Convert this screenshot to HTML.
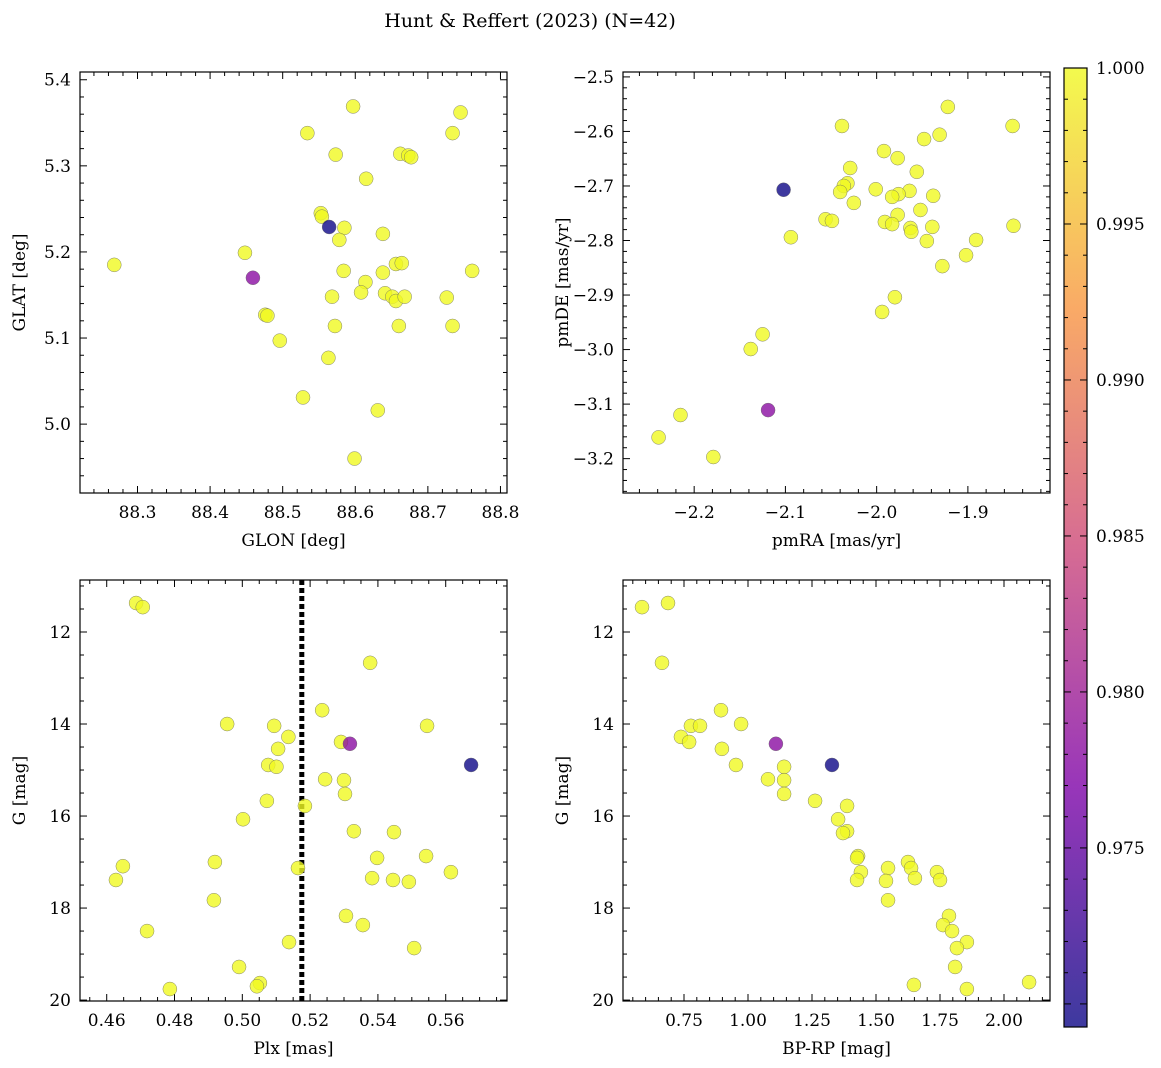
<!DOCTYPE html>
<html><head><meta charset="utf-8"><style>
body{margin:0;background:#fff;}
svg{display:block;font-family:"DejaVu Serif","Liberation Serif",serif;}
</style></head><body>
<svg id="fig" width="1161" height="1068">
<text x="530" y="27" font-size="19" text-anchor="middle">Hunt &amp; Reffert (2023) (N=42)</text>
</svg>
<script>
const NS="http://www.w3.org/2000/svg";
const svg=document.getElementById('fig');
// ---- data ----
const p1Glon=[88.268,88.534,88.573,88.597,88.734,88.745,88.615,88.662,88.673,88.677,88.5525,88.554,88.564,88.585,88.578,88.638,88.448,88.459,88.584,88.638,88.656,88.664,88.761,88.614,88.608,88.641,88.568,88.651,88.656,88.668,88.726,88.476,88.479,88.496,88.572,88.66,88.734,88.563,88.528,88.631,88.599];
const p1Glat=[5.185,5.338,5.313,5.369,5.338,5.362,5.285,5.314,5.312,5.310,5.245,5.241,5.229,5.228,5.214,5.221,5.199,5.170,5.178,5.176,5.186,5.187,5.178,5.165,5.153,5.152,5.148,5.148,5.143,5.148,5.147,5.127,5.126,5.097,5.114,5.114,5.114,5.077,5.031,5.016,4.960];
const p1Prob=[1,1,1,1,1,1,1,1,1,1,1,1,0.9693,1,1,1,1,0.978,1,1,1,1,1,1,1,1,1,1,1,1,1,1,1,1,1,1,1,1,1,1,1];
const p2Pmra=[-1.922,-2.038,-1.851,-1.931,-1.948,-1.992,-1.977,-2.029,-1.956,-2.032,-2.036,-2.102,-2.001,-1.964,-1.976,-2.040,-1.983,-1.938,-2.025,-1.952,-2.056,-2.049,-1.977,-1.991,-1.983,-1.963,-1.962,-1.939,-1.850,-2.094,-1.945,-1.891,-1.902,-1.928,-1.980,-1.994,-2.125,-2.138,-2.119,-2.215,-2.239,-2.179];
const p2Pmde=[-2.555,-2.590,-2.590,-2.606,-2.614,-2.636,-2.649,-2.667,-2.674,-2.695,-2.700,-2.707,-2.706,-2.709,-2.715,-2.711,-2.720,-2.718,-2.731,-2.744,-2.761,-2.764,-2.753,-2.766,-2.770,-2.777,-2.784,-2.775,-2.773,-2.794,-2.801,-2.799,-2.827,-2.847,-2.904,-2.931,-2.972,-2.999,-3.111,-3.120,-3.161,-3.197];
const p2Prob=[1,1,1,1,1,1,1,1,1,1,1,0.9693,1,1,1,1,1,1,1,1,1,1,1,1,1,1,1,1,1,1,1,1,1,1,1,1,1,1,0.978,1,1,1];
const p3Plx=[0.46867,0.47063,0.53771,0.49553,0.50939,0.55450,0.52355,0.51056,0.51359,0.52911,0.53175,0.56749,0.50763,0.51007,0.52443,0.52999,0.53029,0.50724,0.51847,0.50021,0.53292,0.54474,0.55421,0.53976,0.46477,0.49191,0.51642,0.56153,0.46272,0.53829,0.54445,0.54913,0.49162,0.53058,0.53556,0.47190,0.51378,0.55069,0.49904,0.50519,0.50431,0.47863];
const p3G=[11.37,11.46,12.67,14.0,14.04,14.04,13.70,14.54,14.28,14.39,14.43,14.89,14.89,14.93,15.2,15.22,15.52,15.67,15.78,16.07,16.33,16.35,16.87,16.91,17.09,17.0,17.13,17.22,17.39,17.35,17.39,17.43,17.83,18.17,18.37,18.5,18.74,18.87,19.28,19.63,19.70,19.76];
const p3Prob=[1,1,1,1,1,1,1,1,1,1,0.978,0.9693,1,1,1,1,1,1,1,1,1,1,1,1,1,1,1,1,1,1,1,1,1,1,1,1,1,1,1,1,1,1];
const plxLine=0.51755;
const p4Bprp=[0.586,0.6875,0.664,0.8945,0.777,0.8125,0.973,0.738,0.770,1.109,0.898,1.328,0.953,1.141,1.078,1.141,1.141,1.262,1.387,1.352,1.387,1.371,1.43,1.426,1.625,1.637,1.547,1.441,1.738,1.426,1.652,1.539,1.75,1.547,1.785,1.762,1.797,1.855,1.816,1.809,1.648,1.855,2.098];
const p4G=[11.46,11.37,12.67,13.7,14.04,14.04,14.0,14.28,14.39,14.43,14.54,14.89,14.89,14.93,15.2,15.22,15.52,15.67,15.78,16.07,16.33,16.37,16.87,16.91,17.0,17.13,17.13,17.22,17.22,17.39,17.35,17.41,17.39,17.83,18.17,18.37,18.5,18.74,18.87,19.28,19.67,19.76,19.61];
const p4Prob=[1,1,1,1,1,1,1,1,1,0.978,1,0.9693,1,1,1,1,1,1,1,1,1,1,1,1,1,1,1,1,1,1,1,1,1,1,1,1,1,1,1,1,1,1,1];
const cbTicks=[0.975,0.980,0.985,0.990,0.995,1.000];
const VMIN=0.96926, VMAX=1.0;
const plasma=[[0,[13,8,135]],[0.25,[126,3,168]],[0.5,[204,71,120]],[0.75,[248,149,64]],[1,[240,249,33]]];
function cmap(v){let t=Math.max(0,Math.min(1,(v-VMIN)/(VMAX-VMIN)));
 for(let i=1;i<plasma.length;i++){if(t<=plasma[i][0]){const a=plasma[i-1],b=plasma[i];const f=(t-a[0])/(b[0]-a[0]);
 return 'rgb('+a[1].map((c,k)=>Math.round(c+(b[1][k]-c)*f)).join(',')+')';}}return 'rgb(240,249,33)';}
function el(tag,attrs,parent){const e=document.createElementNS(NS,tag);for(const k in attrs)e.setAttribute(k,attrs[k]);(parent||svg).appendChild(e);return e;}
function fmt(v,d){const s=Math.abs(v).toFixed(d);return (v<0?'\u2212':'')+s;}
function panel(o){
 const g=el('g',{});
 
 
 const X=v=>o.x0+(v-o.xmin)/(o.xmax-o.xmin)*(o.x1-o.x0);
 const Y=v=>o.inv? o.y0+(v-o.ymin)/(o.ymax-o.ymin)*(o.y1-o.y0) : o.y1-(v-o.ymin)/(o.ymax-o.ymin)*(o.y1-o.y0);
 const tk=el('g',{stroke:'#000','stroke-width':1},g);
 
 
 for(let v=Math.ceil(o.xmin/o.xminor-1e-6)*o.xminor;v<=o.xmax+1e-9;v+=o.xminor){const px=X(v);const maj=Math.abs(v/o.xmajor-Math.round(v/o.xmajor))<1e-4;const L=maj?7:4;
  el('line',{x1:px,x2:px,y1:o.y1,y2:o.y1-L},tk);el('line',{x1:px,x2:px,y1:o.y0,y2:o.y0+L},tk);
  if(maj){const t=el('text',{x:px,y:o.y1+25,'font-size':17,'text-anchor':'middle',stroke:'none'},g);t.textContent=fmt(v,o.xd);
   }}
 for(let v=Math.ceil(o.ymin/o.yminor-1e-6)*o.yminor;v<=o.ymax+1e-9;v+=o.yminor){const py=Y(v);const maj=Math.abs(v/o.ymajor-Math.round(v/o.ymajor))<1e-4;const L=maj?7:4;
  el('line',{y1:py,y2:py,x1:o.x0,x2:o.x0+L},tk);el('line',{y1:py,y2:py,x1:o.x1,x2:o.x1-L},tk);
  if(maj){const t=el('text',{x:o.x0-9,y:py+6,'font-size':17,'text-anchor':'end',stroke:'none'},g);t.textContent=fmt(v,o.yd);
   }}
 if(o.vline!==undefined){const l=el('line',{x1:X(o.vline),x2:X(o.vline),y1:o.y0,y2:o.y1,stroke:'#000','stroke-width':5,'stroke-dasharray':'5,3'},g);
  }
 const pts=el('g',{},g);
 
 
 const order=o.xs.map((_,i)=>i).sort((a,b)=>o.c[b]-o.c[a]);
 order.forEach(i=>{const c=el('circle',{cx:X(o.xs[i]),cy:Y(o.ys[i]),r:7,fill:cmap(o.c[i]),'fill-opacity':0.8,stroke:'#666','stroke-width':0.5,'stroke-opacity':0.8},pts);
  });
 const fr=el('rect',{x:o.x0,y:o.y0,width:o.x1-o.x0,height:o.y1-o.y0,fill:'none',stroke:'#000','stroke-width':1.2},g);
 
 const xl=el('text',{x:(o.x0+o.x1)/2,y:o.y1+53,'font-size':17,'text-anchor':'middle'},g);xl.textContent=o.xlabel;
 
 const yc=(o.y0+o.y1)/2;const yl=el('text',{x:o.x0-55,y:yc,'font-size':17,'text-anchor':'middle',transform:'rotate(-90 '+(o.x0-55)+' '+yc+')'},g);yl.textContent=o.ylabel;
 
}
panel({name:'glon-glat-panel',x0:80,x1:507,y0:72,y1:493,xmin:88.2208,xmax:88.809,ymin:4.920,ymax:5.409,xmajor:0.1,xminor:0.02,ymajor:0.1,yminor:0.02,xd:1,yd:1,xs:p1Glon,ys:p1Glat,c:p1Prob,xlabel:'GLON [deg]',ylabel:'GLAT [deg]'});
panel({name:'proper-motion-panel',x0:623,x1:1050,y0:72,y1:493,xmin:-2.278,xmax:-1.810,ymin:-3.263,ymax:-2.491,xmajor:0.1,xminor:0.02,ymajor:0.1,yminor:0.02,xd:1,yd:1,xs:p2Pmra,ys:p2Pmde,c:p2Prob,xlabel:'pmRA [mas/yr]',ylabel:'pmDE [mas/yr]'});
panel({name:'parallax-mag-panel',x0:80,x1:507,y0:580,y1:1001,xmin:0.45212,xmax:0.57808,ymin:10.87,ymax:20.02,inv:true,xmajor:0.02,xminor:0.005,ymajor:2,yminor:0.5,xd:2,yd:0,xs:p3Plx,ys:p3G,c:p3Prob,xlabel:'Plx [mas]',ylabel:'G [mag]',vline:plxLine});
panel({name:'cmd-panel',x0:623,x1:1050,y0:580,y1:1001,xmin:0.5117,xmax:2.1797,ymin:10.87,ymax:20.02,inv:true,xmajor:0.25,xminor:0.05,ymajor:2,yminor:0.5,xd:2,yd:0,xs:p4Bprp,ys:p4G,c:p4Prob,xlabel:'BP-RP [mag]',ylabel:'G [mag]'});
const cb=el('g',{});


const defs=el('defs',{},cb);
const lg=el('linearGradient',{id:'pl',x1:0,y1:1,x2:0,y2:0},defs);
plasma.forEach(s=>el('stop',{offset:s[0],'stop-color':'rgb('+s[1].join(',')+')','stop-opacity':0.8},lg));
const cbx=1064,cbw=23,cby0=68,cby1=1027;
el('rect',{x:cbx,y:cby0,width:cbw,height:cby1-cby0,fill:'url(#pl)'},cb);
const CY=v=>cby1-(v-VMIN)/(VMAX-VMIN)*(cby1-cby0);
for(let v=0.970;v<=1.00001;v+=0.001){const py=CY(v);const maj=Math.abs(v*200-Math.round(v*200))<1e-4;const L=maj?7:4;
 el('line',{x1:cbx+cbw,x2:cbx+cbw-L,y1:py,y2:py,stroke:'#000'},cb);el('line',{x1:cbx,x2:cbx+L,y1:py,y2:py,stroke:'#000'},cb);}
cbTicks.forEach(v=>{const t=el('text',{x:cbx+cbw+9,y:CY(v)+6,'font-size':17},cb);t.textContent=v.toFixed(3);
 });
el('rect',{x:cbx,y:cby0,width:cbw,height:cby1-cby0,fill:'none',stroke:'#000','stroke-width':1.2},cb);
</script>
</body></html>
